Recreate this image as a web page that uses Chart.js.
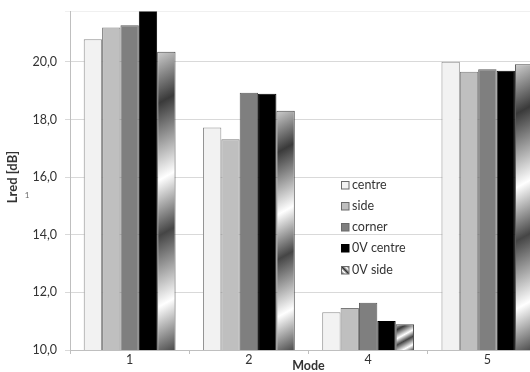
<!DOCTYPE html>
<html>
<head>
<meta charset="utf-8">
<script src="https://cdn.jsdelivr.net/npm/chart.js@4/dist/chart.umd.min.js"></script>
<style>
  html, body { margin: 0; padding: 0; background: #fff; overflow: hidden; }
  #wrap { position: relative; width: 547px; height: 372px; }
</style>
</head>
<body>
<div id="wrap"><canvas id="c"></canvas></div>
<script>
// Reduction level per mode and mounting configuration
const modes    = ['1', '2', '4', '5'];
const centre   = [20.79, 17.73, 11.31, 20.01];
const side     = [21.20, 17.32, 11.46, 19.66];
const corner   = [21.28, 18.93, 11.64, 19.75];
const ovCentre = [22.00, 18.90, 11.01, 19.70];
const ovSide   = [20.36, 18.31, 10.89, 19.92];
const seriesNames = ['centre', 'side', 'corner', '0V centre', '0V side'];
const yTickValues = [10, 12, 14, 16, 18, 20];

const FONT = 'Lato, "Open Sans", sans-serif';
const TEXT = '#333333';
const CAT_PCT = 0.77;

// Chrome-like banded fill used for the "0V side" series
function addChromeStops(g) {
  g.addColorStop(0.00, '#cfcfcf');
  g.addColorStop(0.17, '#3a3a3a');
  g.addColorStop(0.42, '#ffffff');
  g.addColorStop(0.60, '#454545');
  g.addColorStop(0.83, '#ffffff');
  g.addColorStop(1.00, '#4a4a4a');
  return g;
}

function chromeFill(context) {
  const chart = context.chart;
  const xs = chart.scales && chart.scales.x, ys = chart.scales && chart.scales.y;
  if (!xs || !ys || !chart.chartArea || context.dataIndex === undefined || !xs.width) return '#888';
  const n = chart.data.datasets.length;
  const catW = xs.width / chart.data.labels.length;
  const bw = catW * CAT_PCT / n;
  const cx = xs.getPixelForValue(context.dataIndex);
  const L = cx - bw * n / 2 + context.datasetIndex * bw;
  const R = L + bw;
  const v = context.raw;
  const T = Math.max(ys.getPixelForValue(v), ys.top);
  const B = ys.getPixelForValue(ys.min);
  let dx = 0.55, dy = 1;
  const len = Math.hypot(dx, dy); dx /= len; dy /= len;
  const span = (R - L) * dx + (B - T) * dy;
  if (!isFinite(span) || span <= 0) return '#888';
  const g = chart.ctx.createLinearGradient(L, T, L + dx * span, T + dy * span);
  return addChromeStops(g);
}

const fills = ['#f2f2f2', '#bfbfbf', '#7f7f7f', '#000000', chromeFill];
const borders = ['#8c8c8c', '#7a7a7a', '#5a5a5a', '#000000', '#4a4a4a'];
const values = [centre, side, corner, ovCentre, ovSide];

const datasets = seriesNames.map((name, i) => ({
  label: name,
  data: values[i],
  backgroundColor: fills[i],
  borderColor: borders[i],
  borderWidth: 1,
  borderSkipped: 'start',
  categoryPercentage: CAT_PCT,
  barPercentage: 1.0
}));

// Legend placed inside the plot and axis titles
const overlay = {
  id: 'overlay',
  afterDatasetsDraw(chart) {
    const ctx = chart.ctx;
    ctx.save();
    const x0 = 341.5, y0 = 184, step = 21.3;
    ctx.font = '12.5px ' + FONT;
    ctx.textBaseline = 'middle';
    ctx.textAlign = 'left';
    chart.data.datasets.forEach((ds, i) => {
      const y = y0 + i * step;
      const bx = x0, by = Math.round(y - 3.5) + 0.5, bs = 7.5;
      if (i === 4) {
        const g = ctx.createLinearGradient(bx, by + bs, bx + bs, by);
        g.addColorStop(0, '#333'); g.addColorStop(0.3, '#fff');
        g.addColorStop(0.5, '#333'); g.addColorStop(0.75, '#fff');
        g.addColorStop(1, '#444');
        ctx.fillStyle = g;
      } else {
        ctx.fillStyle = fills[i];
      }
      ctx.fillRect(bx, by, bs, bs);
      ctx.strokeStyle = i === 3 ? '#000' : '#6a6a6a';
      ctx.lineWidth = 1;
      ctx.strokeRect(bx, by, bs, bs);
      ctx.fillStyle = TEXT;
      ctx.fillText(ds.label, 352, y + 0.5);
    });
    ctx.restore();
  },
  afterDraw(chart) {
    const ctx = chart.ctx;
    const area = chart.chartArea;
    ctx.save();
    ctx.fillStyle = TEXT;
    ctx.textAlign = 'center';
    ctx.textBaseline = 'middle';
    ctx.font = 'bold 12.5px ' + FONT;
    ctx.fillText('Mode', (area.left + area.right) / 2, 366);
    ctx.font = 'bold 13px ' + FONT;
    ctx.translate(12.5, 177);
    ctx.rotate(-Math.PI / 2);
    ctx.fillText('Lred [dB]', 0, 0);
    ctx.restore();
    ctx.save();
    ctx.fillStyle = '#666';
    ctx.font = '8px ' + FONT;
    ctx.textAlign = 'center';
    ctx.textBaseline = 'middle';
    ctx.fillText('1', 27, 195);
    ctx.restore();
  }
};

new Chart(document.getElementById('c'), {
  type: 'bar',
  data: { labels: modes, datasets },
  options: {
    responsive: true,
    maintainAspectRatio: false,
    animation: false,
    events: [],
    layout: { padding: { top: 11.6, right: 0, bottom: 0, left: 0 } },
    plugins: {
      legend: { display: false },
      tooltip: { enabled: false },
      title: { display: false }
    },
    scales: {
      x: {
        offset: true,
        grid: {
          display: true,
          offset: true,
          drawOnChartArea: false,
          drawTicks: true,
          tickLength: 4,
          color: '#bfbfbf'
        },
        border: { display: true, color: '#bfbfbf' },
        ticks: { color: TEXT, font: { family: FONT, size: 12.5 }, padding: -2 },
        afterFit(scale) {
          scale.height = 22;
          scale.paddingLeft = 0; scale.paddingRight = 0;
        }
      },
      y: {
        min: 10,
        max: 21.75,
        afterBuildTicks(scale) {
          scale.ticks = yTickValues.map(v => ({ value: v })).concat([{ value: 21.75 }]);
        },
        grid: {
          color: ctx => (ctx.tick && ctx.tick.value > 21 ? '#f0f0f0' : '#d9d9d9'),
          tickLength: 5,
          drawTicks: true
        },
        border: { display: true, color: '#bfbfbf' },
        ticks: {
          color: TEXT,
          font: { family: FONT, size: 12.5 },
          padding: 8,
          callback: v => (yTickValues.includes(v) ? v.toFixed(1).replace('.', ',') : '')
        },
        afterFit(scale) {
          scale.width = 70;
          scale.paddingTop = 0; scale.paddingBottom = 0;
        }
      }
    }
  },
  plugins: [overlay]
});
</script>
</body>
</html>
